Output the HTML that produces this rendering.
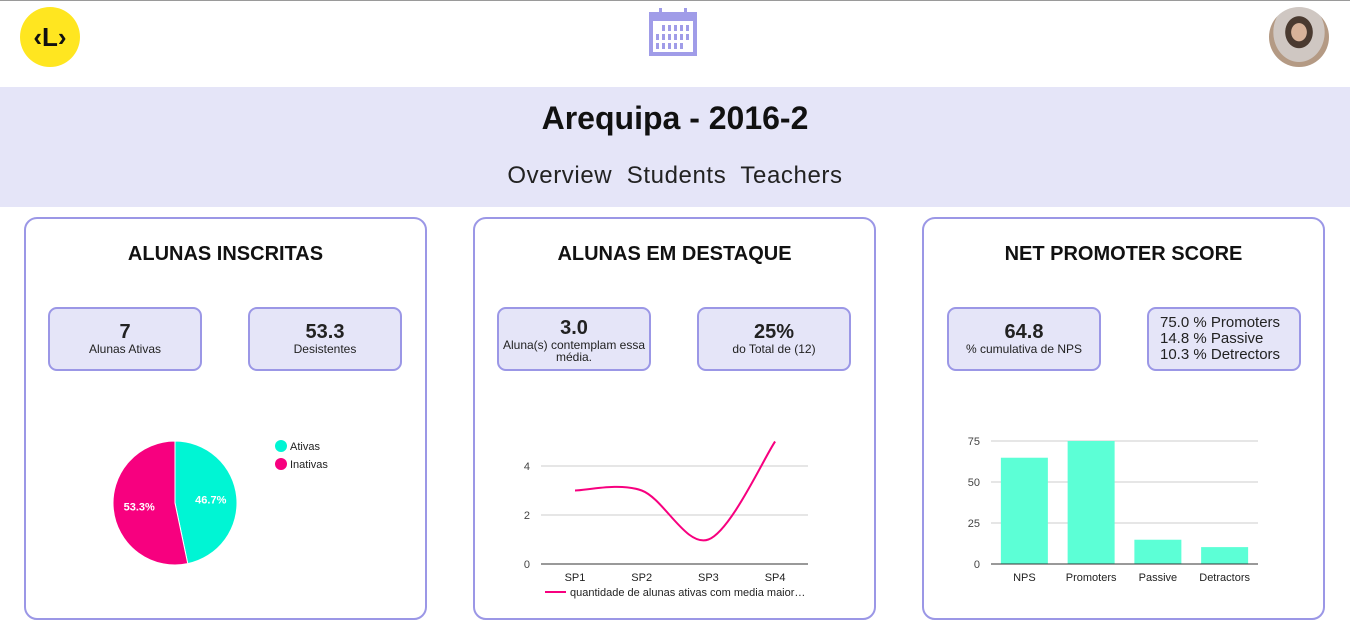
<!DOCTYPE html>
<html><head><meta charset="utf-8">
<style>
*{box-sizing:border-box;margin:0;padding:0}
body{width:1350px;height:626px;background:#fff;font-family:"Liberation Sans",sans-serif;position:relative;overflow:hidden;border-top:1px solid #9a9a9a}
.abs{position:absolute}
.banner{left:0;top:86px;width:1350px;height:120px;background:#e5e5f8}
.card{top:216px;height:403px;width:403px;border:2px solid #9b97e6;border-radius:13px;background:#fff}
.ctitle{top:242px;width:403px;text-align:center;font-size:20px;font-weight:bold;color:#111}
.stat{top:306px;width:154px;height:64px;border:2px solid #9b97e6;border-radius:9px;background:#e5e5f8;text-align:center;color:#222}
.stat b{display:block;font-size:20px;margin-top:12px;line-height:22px}
.stat span{display:block;font-size:12px;line-height:12px}
svg text{font-family:"Liberation Sans",sans-serif}
</style></head><body>
<div class="abs" style="left:20px;top:6px;width:60px;height:60px;border-radius:50%;background:#ffe620;text-align:center;line-height:60px;font-size:26px;font-weight:bold;color:#111">&lsaquo;L&rsaquo;</div>
<svg class="abs" style="left:649px;top:7px" width="48" height="48" viewBox="0 0 48 48">
<rect x="0" y="4" width="48" height="44" fill="#a09ce8"/><rect x="4" y="13" width="40" height="31" fill="#fff"/>
<rect x="10" y="0" width="3" height="8" fill="#a09ce8"/><rect x="35" y="0" width="3" height="8" fill="#a09ce8"/>
<g fill="#a09ce8"><rect x="13" y="17" width="3" height="6"/><rect x="19" y="17" width="3" height="6"/><rect x="25" y="17" width="3" height="6"/><rect x="31" y="17" width="3" height="6"/><rect x="37" y="17" width="3" height="6"/>
<rect x="7" y="26" width="3" height="6"/><rect x="13" y="26" width="3" height="6"/><rect x="19" y="26" width="3" height="6"/><rect x="25" y="26" width="3" height="6"/><rect x="31" y="26" width="3" height="6"/><rect x="37" y="26" width="3" height="6"/>
<rect x="7" y="35" width="3" height="6"/><rect x="13" y="35" width="3" height="6"/><rect x="19" y="35" width="3" height="6"/><rect x="25" y="35" width="3" height="6"/><rect x="31" y="35" width="3" height="6"/></g></svg>
<div class="abs" style="left:1269px;top:6px;width:60px;height:60px;border-radius:50%;background:radial-gradient(ellipse at 50% 42%,#d8b39a 0 18%,#4a3a30 19% 32%,#cfc7c2 33% 60%,#b49a84 61%)"></div>
<div class="abs banner"></div>
<div class="abs" style="left:0;top:99px;width:1350px;text-align:center;font-size:32px;font-weight:bold;color:#111">Arequipa - 2016-2</div>
<div class="abs" style="left:0;top:161px;width:1350px;text-align:center;font-size:24px;color:#222;letter-spacing:0.6px">
<span>Overview</span>&nbsp; <span>Students</span>&nbsp; <span>Teachers</span></div>

<div class="abs card" style="left:24px"></div>
<div class="abs card" style="left:473px"></div>
<div class="abs card" style="left:922px"></div>
<div class="abs ctitle" style="left:24px">ALUNAS INSCRITAS</div>
<div class="abs ctitle" style="left:473px">ALUNAS EM DESTAQUE</div>
<div class="abs ctitle" style="left:922px">NET PROMOTER SCORE</div>

<div class="abs stat" style="left:48px"><b>7</b><span>Alunas Ativas</span></div>
<div class="abs stat" style="left:248px"><b>53.3</b><span>Desistentes</span></div>
<div class="abs stat" style="left:497px"><b style="margin-top:8px">3.0</b><span>Aluna(s) contemplam essa média.</span></div>
<div class="abs stat" style="left:697px"><b>25%</b><span>do Total de (12)</span></div>
<div class="abs stat" style="left:947px"><b>64.8</b><span>% cumulativa de NPS</span></div>
<div class="abs stat" style="left:1147px;text-align:left;padding-left:11px;padding-top:6px;font-size:15px;line-height:16px">75.0 % Promoters<br>14.8 % Passive<br>10.3 % Detrectors</div>

<svg class="abs" id="charts" style="left:0;top:0" width="1350" height="626"></svg>
<script>
const pieLabels=["Ativas","Inativas"];
const pieValues=[46.7,53.3];
const lineCats=["SP1","SP2","SP3","SP4"];
const lineValues=[3,3,1,5];
const lineTicks=[0,2,4];
const barCats=["NPS","Promoters","Passive","Detractors"];
const barValues=[64.8,75,14.8,10.3];
const barTicks=[0,25,50,75];
const NS="http://www.w3.org/2000/svg";
const svg=document.getElementById('charts');
function mk(t,a,p){const e=document.createElementNS(NS,t);for(const k in a)e.setAttribute(k,a[k]);(p||svg).appendChild(e);return e;}
const pieColors=["#00f5d4","#f7007f"];
const cx=175,cy=502,r=62;let ang=-Math.PI/2;const tot=pieValues.reduce((a,b)=>a+b,0);
pieValues.forEach((v,i)=>{const a2=ang+v/tot*2*Math.PI;const large=(a2-ang)>Math.PI?1:0;
const p=mk('path',{d:`M${cx},${cy}L${cx+r*Math.cos(ang)},${cy+r*Math.sin(ang)}A${r},${r} 0 ${large} 1 ${cx+r*Math.cos(a2)},${cy+r*Math.sin(a2)}Z`,fill:pieColors[i],stroke:'#fff','stroke-width':1});


const m=(ang+a2)/2;const t=mk('text',{x:cx+r*0.58*Math.cos(m),y:cy+r*0.58*Math.sin(m)+4,'text-anchor':'middle','font-size':11,'font-weight':'bold',fill:'#fff'});t.textContent=v.toFixed(1)+'%';


const lc=mk('circle',{cx:281,cy:445+i*18,r:6,fill:pieColors[i]});


const lt=mk('text',{x:290,y:449+i*18,'font-size':11,fill:'#222'});lt.textContent=pieLabels[i];


ang=a2;});
const lx0=541,lx1=808,ly0=563,lpu=24.5;
const lxs=i=>575+i*66.7, lys=v=>ly0-v*lpu;
lineTicks.forEach(t=>{const g=mk('line',{x1:lx0,x2:lx1,y1:lys(t),y2:lys(t),stroke:t?'#ccc':'#333','stroke-width':1});


const tx=mk('text',{x:530,y:lys(t)+4,'text-anchor':'end','font-size':11,fill:'#444'});tx.textContent=t;

});
lineCats.forEach((c,i)=>{const tx=mk('text',{x:lxs(i),y:580,'text-anchor':'middle','font-size':11,fill:'#222'});tx.textContent=c;

});
const pts=lineValues.map((v,i)=>[lxs(i),lys(v)]);
let d=`M${pts[0][0]},${pts[0][1]}`;
for(let i=0;i<pts.length-1;i++){const p0=pts[Math.max(0,i-1)],p1=pts[i],p2=pts[i+1],p3=pts[Math.min(pts.length-1,i+2)];
const k=6;const c1=[p1[0]+(p2[0]-p0[0])/k,p1[1]+(p2[1]-p0[1])/k],c2=[p2[0]-(p3[0]-p1[0])/k,p2[1]-(p3[1]-p1[1])/k];
d+=`C${c1[0]},${c1[1]} ${c2[0]},${c2[1]} ${p2[0]},${p2[1]}`;}
const ln=mk('path',{d:d,fill:'none',stroke:'#f7007f','stroke-width':2});


const ll=mk('line',{x1:545,x2:566,y1:591,y2:591,stroke:'#f7007f','stroke-width':2});


const lt2=mk('text',{x:570,y:595,'font-size':11,fill:'#222'});lt2.textContent='quantidade de alunas ativas com media maior…';


const bx0=991,bx1=1258,by0=563,bpu=123/75,band=(bx1-bx0)/4;
const bys=v=>by0-v*bpu;
barTicks.forEach(t=>{const g=mk('line',{x1:bx0,x2:bx1,y1:bys(t),y2:bys(t),stroke:'#ccc','stroke-width':1});


const tx=mk('text',{x:980,y:bys(t)+4,'text-anchor':'end','font-size':11,fill:'#444'});tx.textContent=t;

});
barValues.forEach((v,i)=>{const x=bx0+i*band+(band-47)/2;
const b=mk('rect',{x:x,y:bys(v),width:47,height:by0-bys(v),fill:'#5cffd6'});


const tx=mk('text',{x:x+23.5,y:580,'text-anchor':'middle','font-size':11,fill:'#222'});tx.textContent=barCats[i];

});
const ax=mk('line',{x1:bx0,x2:bx1,y1:by0,y2:by0,stroke:'#333','stroke-width':1});


</script>
</body></html>
